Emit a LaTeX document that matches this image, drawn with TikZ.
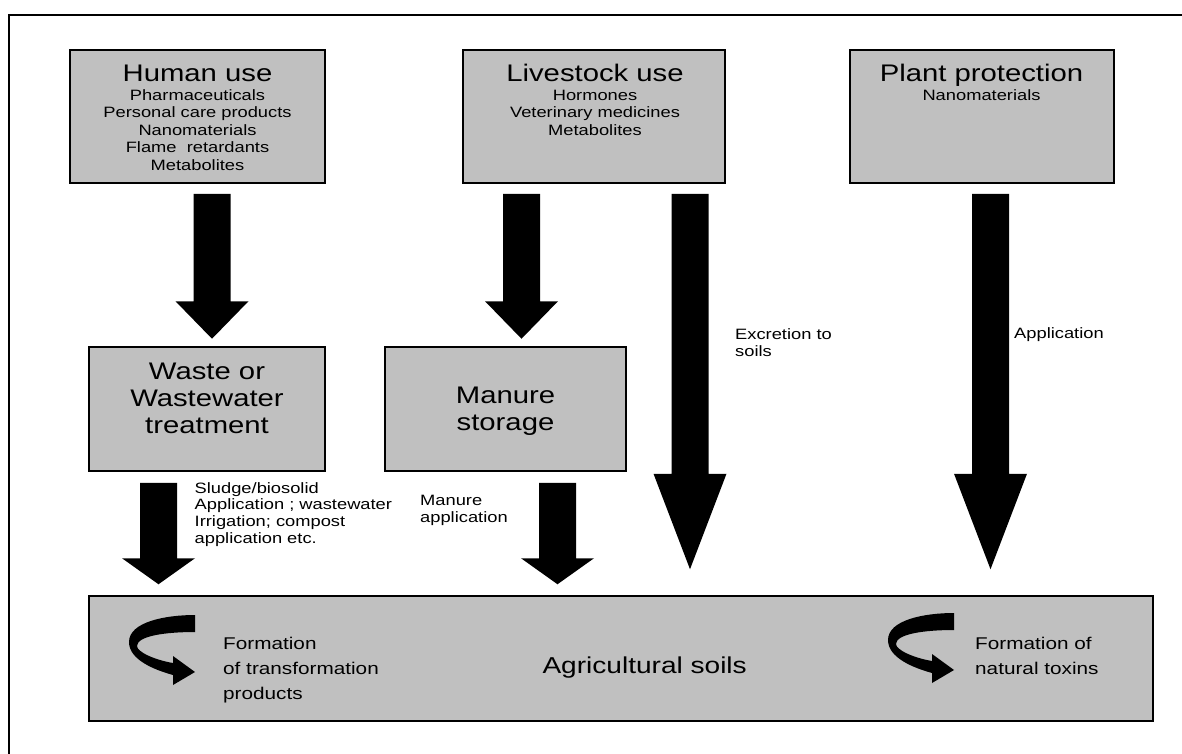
\documentclass[tikz,border=0pt]{standalone}
\usepackage{fontspec}
\setmainfont[FakeStretch=1.22]{Liberation Sans}
\usetikzlibrary{calc,positioning}
\definecolor{boxgray}{RGB}{192,192,192}

\tikzset{
  box/.style={draw=black, line width=1.5pt, fill=boxgray, inner sep=0pt},
  bigtext/.style={font=\fontsize{24}{27}\selectfont, align=center, inner sep=0pt},
  itemtext/.style={font=\fontsize{15}{17.5}\selectfont, align=center, inner sep=0pt, anchor=base},
  flowtext/.style={font=\fontsize{15}{16.8}\selectfont, align=left, inner sep=0pt, anchor=base west},
  loopt/.style={font=\fontsize{17}{25}\selectfont, align=left, inner sep=0pt, anchor=base west},
  blockarrow/.style={fill=black, to path={let \p1=(\tikztostart), \p2=(\tikztotarget) in
    (\x1-18.5pt,\y1) -- (\x1+18.5pt,\y1) -- (\x2+18.5pt,\y2+#1) -- (\x2+36.5pt,\y2+#1)
    -- (\x2,\y2) -- (\x2-36.5pt,\y2+#1) -- (\x2-18.5pt,\y2+#1) -- cycle}},
  turnarrow/.pic={
    \fill (0,-57) .. controls (-30,-57) and (-66,-50) .. (-66,-30)
      .. controls (-66,-12) and (-40,-2) .. (-22,3)
      -- (-22,13) -- (0,0) -- (-22,-16) -- (-22,-9)
      .. controls (-40,-12) and (-58,-20) .. (-58,-26)
      .. controls (-58,-36) and (-30,-40) .. (0,-40) -- cycle;
  }
}

\begin{document}
\begin{tikzpicture}[x=1pt,y=-1pt]
  \useasboundingbox (0,0) rectangle (1182,754);
  \draw[line width=1.5pt] (1182,15) -- (9,15) -- (9,754);
  % sources
  \node[box, minimum width=255pt, minimum height=133pt] (human) at (197.5,116.5) {};
  \node[box, minimum width=262pt, minimum height=133pt] (livestock) at (594,116.5) {};
  \node[box, minimum width=264pt, minimum height=133pt] (plant) at (982,116.5) {};
  \node[bigtext, anchor=base] (humant) at (197.5,82) {Human use};
  \node[bigtext, anchor=base] (livet) at (595,82) {Livestock use};
  \node[bigtext, anchor=base] (plantt) at (981.5,82) {Plant protection};
  % (base = last line)
  \node[itemtext] (humani) at (197.5,170.4) {Pharmaceuticals\\Personal care products\\Nanomaterials\\Flame\ \ retardants\\Metabolites};
  \node[itemtext] (livei) at (595,135.4) {Hormones\\Veterinary medicines\\Metabolites};
  \node[itemtext] (planti) at (981.5,100.4) {Nanomaterials};
  %
  % intermediate steps
  \node[box, minimum width=236pt, minimum height=124pt] (waste) at (207,409) {};
  \node[box, minimum width=241pt, minimum height=124pt] (manure) at (505.5,409) {};
  \node[bigtext] (wastet) at (207,398) {Waste or\\Wastewater\\treatment};
  \node[bigtext] (manuret) at (505.5,411) {Manure\\storage};
  %
  % soils
  \node[box, minimum width=1064pt, minimum height=125pt] (soils) at (621,658.5) {};
  \node[font=\fontsize{23}{27}\selectfont, inner sep=0pt, anchor=base east] (soilst) at (747,673) {Agricultural soils};
  \pic (lturn) at (195,672) {turnarrow};
  \pic (rturn) at (954,670) {turnarrow};
  \node[loopt] (lturnt) at (223,699) {Formation\\of transformation\\products};
  \node[loopt] (rturnt) at (975,674) {Formation of\\natural toxins};
  %
  % Flows:
  \path[blockarrow=37.5pt] ($(human.south -| 212,0)+(0,10)$) to ($(waste.north -| 212,0)+(0,-7.5)$);
  \path[blockarrow=37.5pt] ($(livestock.south -| 521.5,0)+(0,10)$) to ($(manure.north -| 521.5,0)+(0,-7.5)$);
  \path[blockarrow=95.5pt] ($(livestock.south -| 690,0)+(0,10)$) to ($(soils.north -| 690,0)+(0,-26)$);
  \path[blockarrow=95.5pt] ($(plant.south -| 990.5,0)+(0,10)$) to ($(soils.north -| 990.5,0)+(0,-26)$);
  \path[blockarrow=26pt] ($(waste.south -| 158.5,0)+(0,11)$) to ($(soils.north -| 158.5,0)+(0,-11)$);
  \path[blockarrow=26pt] ($(manure.south -| 557.5,0)+(0,11)$) to ($(soils.north -| 557.5,0)+(0,-11)$);
  \node[flowtext] (exct) at (735,356) {Excretion to\\soils};
  \node[flowtext] (applt) at (1014,338.4) {Application};
  \node[flowtext] (sludget) at (194.5,543.4) {Sludge/biosolid\\Application ; wastewater\\Irrigation; compost\\application etc.};
  \node[flowtext] (manapt) at (420,522.4) {Manure\\application};
\end{tikzpicture}
\end{document}
